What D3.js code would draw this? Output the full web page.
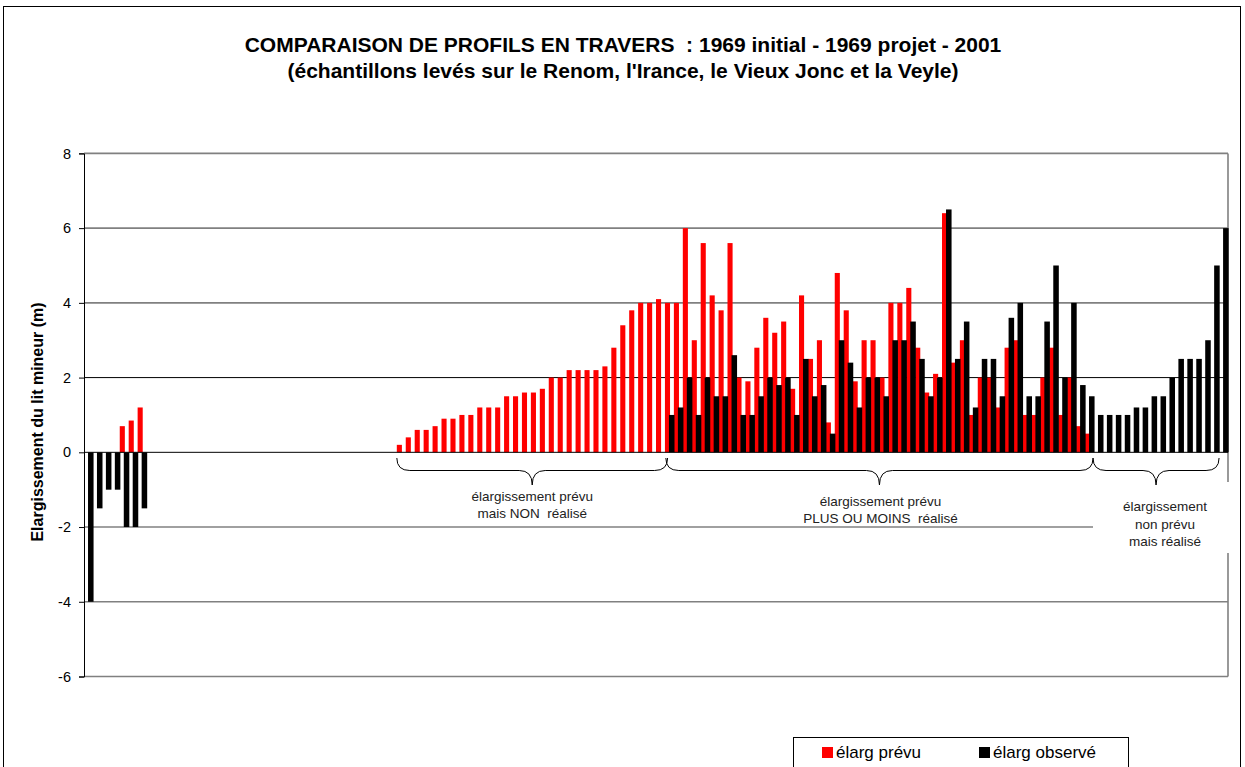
<!DOCTYPE html>
<html>
<head>
<meta charset="utf-8">
<script src="https://cdn.jsdelivr.net/npm/d3@7"></script>
<style>
  body { margin: 0; background: #fff; }
  svg text { font-family: "Liberation Sans", Arial, sans-serif; }
</style>
</head>
<body>
<svg id="chart" width="1245" height="767"></svg>
<script>
// ─── Data ────────────────────────────────────────────────
// élargissement prévu (m), one value per sample, left to right
const prevu = [
  0, 0, 0, 0, 0.7, 0.85, 1.2,
  0, 0, 0, 0, 0, 0, 0, 0, 0, 0, 0, 0, 0, 0,
  0, 0, 0, 0, 0, 0, 0, 0, 0, 0, 0, 0, 0, 0,
  0.2, 0.4, 0.6, 0.6, 0.7, 0.9, 0.9, 1.0, 1.0, 1.2, 1.2, 1.2, 1.5, 1.5, 1.6, 1.6,
  1.7, 2.0, 2.0, 2.2, 2.2, 2.2, 2.2, 2.3, 2.8, 3.4, 3.8, 4.0, 4.0, 4.1, 4.0, 4.0,
  6.0, 3.0, 5.6, 4.2, 3.8, 5.6, 2.0, 1.9, 2.8, 3.6, 3.2, 3.5, 1.7, 4.2, 2.5,
  3.0, 0.8, 4.8, 3.8, 1.9, 3.0, 3.0, 2.0, 4.0, 4.0, 4.4, 2.8, 1.6, 2.1, 6.4,
  2.4, 3.0, 1.0, 2.0, 2.0, 1.2, 2.8, 3.0, 1.0, 1.0, 2.0, 2.8, 1.0, 2.0, 0.7, 0.5,
  0, 0, 0, 0, 0, 0, 0, 0, 0, 0, 0, 0, 0, 0, 0
];

// élargissement observé (m)
const observe = [
  -4, -1.5, -1, -1, -2, -2, -1.5,
  0, 0, 0, 0, 0, 0, 0, 0, 0, 0, 0, 0, 0, 0,
  0, 0, 0, 0, 0, 0, 0, 0, 0, 0, 0, 0, 0, 0,
  0, 0, 0, 0, 0, 0, 0, 0, 0, 0, 0, 0, 0, 0, 0,
  0, 0, 0, 0, 0, 0, 0, 0, 0, 0, 0, 0, 0, 0, 0,
  1.0, 1.2,
  2.0, 1.0, 2.0, 1.5, 1.5, 2.6, 1.0, 1.0, 1.5, 2.0, 1.8, 2.0, 1.0, 2.5, 1.5,
  1.8, 0.5, 3.0, 2.4, 1.2, 2.0, 2.0, 1.5, 3.0, 3.0, 3.5, 2.5, 1.5, 2.0, 6.5,
  2.5, 3.5, 1.2, 2.5, 2.5, 1.5, 3.6, 4.0, 1.5, 1.5, 3.5, 5.0, 2.0, 4.0, 1.8, 1.5,
  1.0, 1.0, 1.0, 1.0, 1.2, 1.2, 1.5, 1.5, 2.0, 2.5, 2.5, 2.5, 3.0, 5.0, 6.0
];

const yTicks = [8, 6, 4, 2, 0, -2, -4, -6];

const titleLines = [
  'COMPARAISON DE PROFILS EN TRAVERS  : 1969 initial - 1969 projet - 2001',
  "(échantillons levés sur le Renom, l'Irance, le Vieux Jonc et la Veyle)"
];
const yTitle = 'Elargissement du lit mineur (m)';

// brace annotations, in sample positions
const groups = [
  { from: 35.0, to: 65.3, dx: 0, lines: ['élargissement prévu', 'mais NON  réalisé'] },
  { from: 65.1, to: 112.9, dx: 1, lines: ['élargissement prévu', 'PLUS OU MOINS  réalisé'] },
  { from: 112.9, to: 127.0, dx: 9, lines: ['élargissement', 'non prévu', 'mais réalisé'] }
];

const legendItems = [
  { label: 'élarg prévu', color: '#ff0000' },
  { label: 'élarg observé', color: '#000000' }
];

// ─── Layout ──────────────────────────────────────────────
const svg = d3.select('#chart');
const plot = { left: 84, right: 1228, top: 153.4, bottom: 676.5 };
const idx = d3.range(prevu.length);

const x = d3.scaleBand().domain(idx).range([plot.left, plot.right]).padding(0);
const xPos = d3.scaleLinear().domain([0, prevu.length]).range([plot.left, plot.right]);
const y = d3.scaleLinear().domain([-6, 8]).range([plot.bottom, plot.top]);
const bw = x.bandwidth();

// outer frame
svg.append('rect')
  .attr('x', 3.5).attr('y', 6.5).attr('width', 1237).attr('height', 800)
  .attr('fill', 'none').attr('stroke', '#000').attr('stroke-width', 1);

// titles
svg.append('g').selectAll('text')
  .data(titleLines).join('text')
  .attr('x', 623).attr('y', (d, i) => 52 + i * 26)
  .attr('text-anchor', 'middle')
  .attr('font-size', 21).attr('font-weight', 'bold')
  .style('white-space', 'pre')
  .text(d => d);

// gridlines
svg.append('g').selectAll('line')
  .data(yTicks.filter(t => t !== 0)).join('line')
  .attr('x1', plot.left).attr('x2', plot.right)
  .attr('y1', d => y(d)).attr('y2', d => y(d))
  .attr('stroke', d => d === 2 ? '#000' : '#808080')
  .attr('stroke-width', d => d === 2 ? 1 : 1.6);

// right border of plot area
svg.append('line')
  .attr('x1', plot.right).attr('x2', plot.right)
  .attr('y1', plot.top).attr('y2', plot.bottom)
  .attr('stroke', '#808080').attr('stroke-width', 1.6);

// bars — red series first, black drawn over it
function barY(v) { return y(Math.max(0, v)); }
function barH(v) { return Math.abs(y(v) - y(0)); }

svg.append('g').selectAll('rect')
  .data(idx.filter(i => prevu[i] !== 0)).join('rect')
  .attr('x', i => x(i)).attr('width', bw * 0.57)
  .attr('y', i => barY(prevu[i])).attr('height', i => barH(prevu[i]))
  .attr('fill', '#ff0000');

svg.append('g').selectAll('rect')
  .data(idx.filter(i => observe[i] !== 0)).join('rect')
  .attr('x', i => x(i) + bw * 0.45).attr('width', bw * 0.62)
  .attr('y', i => barY(observe[i])).attr('height', i => barH(observe[i]))
  .attr('fill', '#000');

// zero line (category axis)
svg.append('line')
  .attr('x1', plot.left).attr('x2', plot.right)
  .attr('y1', y(0)).attr('y2', y(0))
  .attr('stroke', '#000').attr('stroke-width', 1);

// y axis
const yAxis = svg.append('g')
  .attr('transform', `translate(${plot.left},0)`)
  .call(d3.axisLeft(y).tickValues(yTicks).tickFormat(d => String(d)).tickSize(5).tickPadding(8));
yAxis.select('.domain').attr('stroke', '#000');
yAxis.selectAll('.tick line').attr('stroke', '#000');
yAxis.selectAll('.tick text')
  .attr('font-size', 14.5).attr('fill', '#000')
  .attr('font-family', '"Liberation Sans", Arial, sans-serif');

svg.append('text')
  .attr('transform', 'translate(43,422) rotate(-90)')
  .attr('text-anchor', 'middle')
  .attr('font-size', 16).attr('font-weight', 'bold')
  .text(yTitle);

// ─── Braces + annotations ────────────────────────────────
function bracePath(x1, x2, y0, y1, yTip, r) {
  const xc = (x1 + x2) / 2;
  return `M${x1},${y0} Q${x1},${y1} ${x1 + r},${y1} L${xc - r},${y1} Q${xc},${y1} ${xc},${yTip}` +
         ` Q${xc},${y1} ${xc + r},${y1} L${x2 - r},${y1} Q${x2},${y1} ${x2},${y0}`;
}

// white box behind the last note hides grid and frame
svg.append('rect')
  .attr('x', 1093).attr('y', 482).attr('width', 143).attr('height', 71)
  .attr('fill', '#fff');

groups.forEach((g, gi) => {
  const x1 = xPos(g.from), x2 = xPos(g.to);
  const xc = (x1 + x2) / 2 + g.dx;
  svg.append('path')
    .attr('d', bracePath(x1, x2, 458, 470.5, 485, 13))
    .attr('fill', 'none').attr('stroke', '#000').attr('stroke-width', 1);
  const base = gi === 0 ? 501 : gi === 1 ? 506 : 511;
  const step = gi === 2 ? 17.5 : 16.5;
  svg.append('g').selectAll('text')
    .data(g.lines).join('text')
    .attr('x', xc).attr('y', (d, i) => base + i * step)
    .attr('text-anchor', 'middle')
    .attr('font-size', 13.5).attr('fill', '#222')
    .style('white-space', 'pre')
    .text(d => d);
});

// ─── Legend ──────────────────────────────────────────────
svg.append('rect')
  .attr('x', 793.5).attr('y', 737.5).attr('width', 335).attr('height', 40)
  .attr('fill', '#fff').attr('stroke', '#000').attr('stroke-width', 1);

const leg = svg.append('g').selectAll('g')
  .data(legendItems).join('g')
  .attr('transform', (d, i) => `translate(${822 + i * 157},747)`);
leg.append('rect').attr('width', 11).attr('height', 11).attr('fill', d => d.color);
leg.append('text').attr('x', 14).attr('y', 11)
  .attr('font-size', 17).attr('fill', '#000')
  .text(d => d.label);
</script>
</body>
</html>
